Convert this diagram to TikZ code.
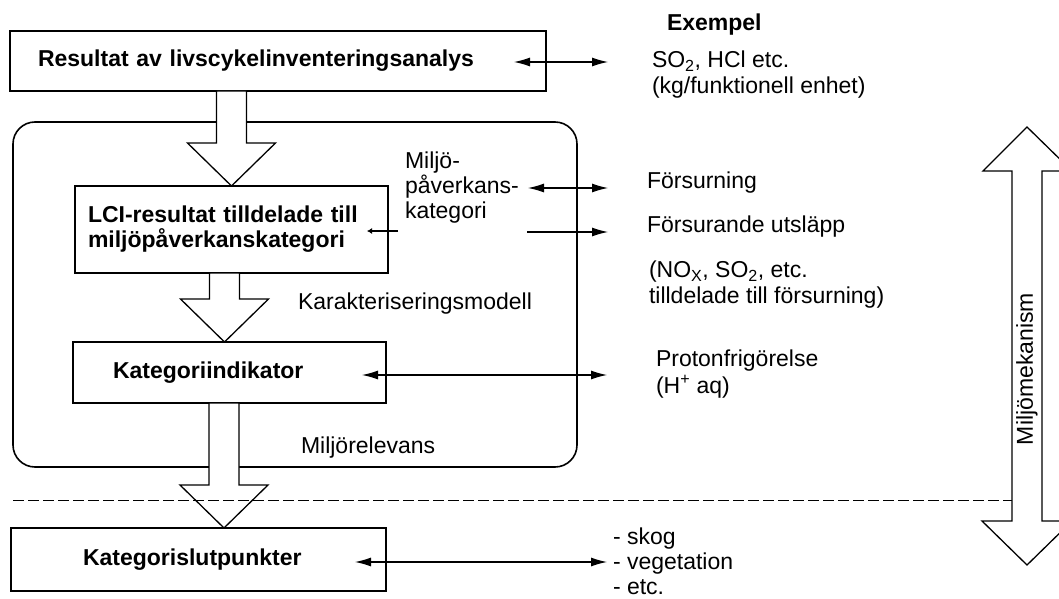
\documentclass[tikz,border=0pt]{standalone}
\usepackage{fontspec}
\setmainfont{Liberation Sans}
\usetikzlibrary{arrows.meta,calc}
\begin{document}
\begin{tikzpicture}[x=1pt,y=-1pt,
  every node/.style={font=\fontsize{23}{26}\selectfont, inner sep=0pt, outer sep=0pt},
  box/.style={draw, line width=1.6pt, font=\fontsize{23}{25}\selectfont\bfseries, align=left, anchor=north west, inner ysep=0pt},
  fat/.style={draw, fill=white, line width=1.3pt, line join=miter},
  dbl/.style={line width=1.1pt, {Latex[length=16pt,width=9pt]}-{Latex[length=16pt,width=9pt]}},
  sgl/.style={line width=1.1pt, -{Latex[length=16pt,width=9pt]}},
  tiny/.style={line width=1.1pt, -{Latex[length=5pt,width=6pt]}},
  txt/.style={anchor=west, align=left},
  dash line/.style={line width=1pt, dash pattern=on 11pt off 4pt}]
\useasboundingbox (0,0) rectangle (1059,599);
\clip (0,0) rectangle (1059,599);

% frame
\node[draw, line width=1.6pt, rounded corners=22pt, minimum width=564pt, minimum height=345pt, anchor=north west] (frame) at (13,122) {};

% boxes
\node[box, inner xsep=28pt, text width=480pt, minimum height=60pt] (b1) at (10,31) {Resultat av livscykelinventeringsanalys};
\node[box, inner xsep=13pt, text width=287pt, minimum height=87pt] (lci) at (75,186) {LCI-resultat tilldelade till\\miljöpåverkanskategori};
\node[box, inner xsep=40pt, text width=233pt, minimum height=61pt] (ki) at (73,342) {Kategoriindikator};
\node[box, inner xsep=72pt, text width=231pt, minimum height=63pt] (bot) at (11,528) {Kategorislutpunkter};

% fat arrows
\coordinate (a1) at (lci.north);
\draw[fat] (a1) -- ++(44,-43) -- ++(-29,0) -- ($(a1 |- b1.south)+(15,0)$) -- ($(a1 |- b1.south)+(-15,0)$) -- ($(a1)+(-15,-43)$) -- ++(-29,0) -- cycle;
\coordinate (a2) at ($(ki.north)+(-5,0)$);
\draw[fat] (a2) -- ++(44,-43) -- ++(-29,0) -- ($(a2 |- lci.south)+(15,0)$) -- ($(a2 |- lci.south)+(-15,0)$) -- ($(a2)+(-15,-43)$) -- ++(-29,0) -- cycle;
\coordinate (a3) at ($(bot.north)+(25.5,0)$);
\draw[fat] (a3) -- ++(44,-43) -- ++(-29,0) -- ($(a3 |- ki.south)+(15,0)$) -- ($(a3 |- ki.south)+(-15,0)$) -- ($(a3)+(-15,-43)$) -- ++(-29,0) -- cycle;

% big right arrow
\draw[fat] (1027,127) -- (1072,171) -- (1042,171) -- (1042,521) -- (1072,521) -- (1027,565) -- (982,521) -- (1012,521) -- (1012,171) -- (983,171) -- cycle;
\node[rotate=90] (mm) at (1027,369) {Miljömekanism};

% dashed line
\coordinate (dl) at (13,500);
\coordinate (dr) at (1012,500);
\draw[dash line] (dl) -- (dr);

% texts
\node[txt, font=\fontsize{23}{26}\selectfont\bfseries] (ex) at (667,25) {Exempel};
\node[txt] (so2) at (652,75) {SO\textsubscript{2}, HCl etc.\\(kg/funktionell enhet)};
\node[txt, font=\fontsize{23}{25}\selectfont] (mpk) at (405,188) {Miljö-\\påverkans-\\kategori};
\node[txt] (fors) at (647,183) {Försurning};
\node[txt] (fu) at (647,227) {Försurande utsläpp};
\node[txt] (nox) at (649,285) {(NO\textsubscript{X}, SO\textsubscript{2}, etc.\\tilldelade till försurning)};
\node[txt] (karak) at (298,304) {Karakteriseringsmodell};
\node[txt, font=\fontsize{23}{27}\selectfont] (prot) at (656,374) {Protonfrigörelse\\(H\textsuperscript{+} aq)};
\node[txt] (mrel) at (301,448) {Miljörelevans};
\node[txt, font=\fontsize{23}{25}\selectfont] (ex2) at (613,561) {- skog\\- vegetation\\- etc.};

% thin arrows
\coordinate (p1l) at (514,62); \coordinate (p1r) at (608,62);
\draw[dbl] (p1l) -- (p1r);
\coordinate (p2l) at (528,188); \coordinate (p2r) at (608,188);
\draw[dbl] (p2l) -- (p2r);
\coordinate (p3a) at (398,231); \coordinate (p3b) at (367,231);
\draw[tiny] (p3a) -- (p3b);
\coordinate (p4a) at (527,232); \coordinate (p4b) at (608,232);
\draw[sgl] (p4a) -- (p4b);
\coordinate (p5l) at (362,375); \coordinate (p5r) at (607,375);
\draw[dbl] (p5l) -- (p5r);
\coordinate (p6l) at (355,562); \coordinate (p6r) at (607,562);
\draw[dbl] (p6l) -- (p6r);
\end{tikzpicture}
\end{document}
